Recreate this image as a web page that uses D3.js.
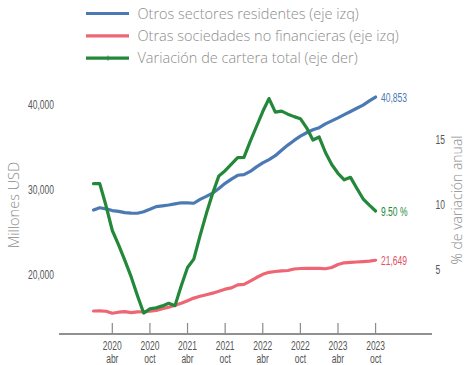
<!DOCTYPE html>
<html>
<head>
<meta charset="utf-8">
<script src="https://cdn.jsdelivr.net/npm/d3@7"></script>
<style>
  html, body { margin: 0; padding: 0; background: #ffffff; }
  svg { display: block; }
  .cond { font-family: "Liberation Sans", Arial, sans-serif; }
  .lab { font-family: "Open Sans", "Noto Sans", sans-serif; font-weight: 300; fill: #8c8c8c; }
</style>
</head>
<body>
<svg id="chart" width="466" height="365"></svg>
<script>
// Monthly series, Jan 2020 – Oct 2023
const startYear = 2020, startMonth = 0;
const otrosSectores = [
  27565, 27835, 27700, 27500, 27400, 27250, 27200, 27180, 27360, 27650,
  27960, 28050, 28150, 28280, 28420, 28400, 28360, 28820, 29170, 29550,
  30100, 30700, 31200, 31650, 31720, 32100, 32640, 33100, 33500, 33950,
  34600, 35200, 35750, 36250, 36650, 37000, 37250, 37700, 38050, 38400,
  38780, 39150, 39530, 39900, 40400, 40853
];
const otrasSociedades = [
  15680, 15690, 15650, 15420, 15540, 15600, 15500, 15580, 15600, 15650,
  15740, 15950, 16130, 16350, 16600, 16900, 17200, 17420, 17600, 17780,
  18000, 18250, 18400, 18760, 18820, 19200, 19620, 20000, 20230, 20330,
  20400, 20450, 20620, 20680, 20700, 20710, 20700, 20650, 20800, 21150,
  21350, 21400, 21450, 21500, 21560, 21649
];
const variacionCartera = [
  11.6, 11.6, 9.9, 8.0, 6.9, 5.7, 4.45, 3.0, 1.65, 1.97,
  2.05, 2.2, 2.4, 2.22, 3.75, 5.15, 5.8, 7.6, 9.3, 10.85,
  12.2, 12.6, 13.1, 13.6, 13.62, 14.85, 16.0, 17.15, 18.15, 17.1,
  17.18, 16.95, 16.76, 16.6, 15.9, 14.96, 15.19, 14.0, 13.08, 12.4,
  11.9, 12.09, 11.25, 10.44, 9.95, 9.50
];

const monthNames = ["ene","feb","mar","abr","may","jun","jul","ago","sep","oct","nov","dic"];
const tickMonths = [3, 9, 15, 21, 27, 33, 39, 45];   // abr / oct of each year
const leftTicks = [20000, 30000, 40000];
const rightTicks = [5, 10, 15];

const seriesInfo = [
  { name: "Otros sectores residentes (eje izq)", color: "#4b79b4", values: otrosSectores, axis: "left" },
  { name: "Otras sociedades no financieras (eje izq)", color: "#ee6674", values: otrasSociedades, axis: "left" },
  { name: "Variación de cartera total (eje der)", color: "#23883a", values: variacionCartera, axis: "right" }
];

const svg = d3.select("#chart");

const x = d3.scaleLinear().domain([0, otrosSectores.length - 1]).range([93.5, 375.6]);
const yLeft = d3.scaleLinear().domain([20000, 40000]).range([274.3, 104.3]);
const yRight = d3.scaleLinear().domain([0, 15]).range([334.5, 139.5]);
const baseY = 334;
const squeeze = 0.63;   // narrow numeric labels

// Helper: horizontally condensed label
function condText(g, tx, ty, str, color, anchor) {
  return g.append("text").attr("class", "cond")
    .attr("transform", `translate(${tx},${ty}) scale(${squeeze},1)`)
    .attr("text-anchor", anchor || "start")
    .attr("fill", color)
    .style("font-size", "13.5px")
    .text(str);
}

// Legend
const legend = svg.append("g");
seriesInfo.forEach((s, i) => {
  const ly = 13.5 + i * 22.3;
  legend.append("line")
    .attr("x1", 86).attr("x2", 129).attr("y1", ly).attr("y2", ly)
    .attr("stroke", s.color).attr("stroke-width", 3.2);
  if (s.axis === "right") {
    legend.append("line")
      .attr("x1", 108).attr("x2", 108).attr("y1", ly - 2.5).attr("y2", ly + 2.5)
      .attr("stroke", s.color).attr("stroke-width", 1);
  }
  legend.append("text").attr("class", "lab")
    .attr("x", 137.5).attr("y", ly).attr("dy", "0.35em")
    .style("font-size", "14.5px")
    .text(s.name);
});

// X axis with baseline and upward ticks
const xAxis = svg.append("g");
xAxis.append("line")
  .attr("x1", 59).attr("x2", 432).attr("y1", baseY).attr("y2", baseY)
  .attr("stroke", "#6b6b6b").attr("stroke-width", 1.4);
tickMonths.forEach(m => {
  const tx = x(m);
  xAxis.append("line")
    .attr("x1", tx).attr("x2", tx).attr("y1", baseY - 11).attr("y2", baseY)
    .attr("stroke", "#8a8a8a").attr("stroke-width", 1.2);
  const yr = startYear + Math.floor((startMonth + m) / 12);
  const mn = monthNames[(startMonth + m) % 12];
  condText(xAxis, tx, 350, yr, "#555", "middle");
  condText(xAxis, tx, 363, mn, "#555", "middle");
});

// Left axis labels
const fmt = d3.format(",");
const leftG = svg.append("g");
leftTicks.forEach(d => condText(leftG, 54, yLeft(d) + 4.8, fmt(d), "#555", "end"));

// Right axis labels
const rightG = svg.append("g");
rightTicks.forEach(d => condText(rightG, 435.5, yRight(d) + 4.8, d, "#555", "start"));

// Axis titles
svg.append("text").attr("class", "lab")
  .attr("transform", "translate(13.5,205) rotate(-90)")
  .attr("text-anchor", "middle").attr("dy", "0.35em")
  .style("font-size", "14.5px").text("Millones USD");
svg.append("text").attr("class", "lab")
  .attr("transform", "translate(457.5,200) rotate(-90)")
  .attr("text-anchor", "middle").attr("dy", "0.35em")
  .style("font-size", "14px").text("% de variación anual");

// Series lines
const lineLeft = d3.line().x((d, i) => x(i)).y(d => yLeft(d));
const lineRight = d3.line().x((d, i) => x(i)).y(d => yRight(d));
seriesInfo.forEach(s => {
  svg.append("path")
    .datum(s.values)
    .attr("fill", "none")
    .attr("stroke", s.color)
    .attr("stroke-width", 3.2)
    .attr("stroke-linejoin", "round")
    .attr("stroke-linecap", "round")
    .attr("d", s.axis === "left" ? lineLeft : lineRight);
});

// End-of-series value labels
const last = otrosSectores.length - 1;
const endLabels = [
  { text: fmt(otrosSectores[last]), y: yLeft(otrosSectores[last]), color: "#4b79b4" },
  { text: d3.format(".2f")(variacionCartera[last]) + " %", y: yRight(variacionCartera[last]), color: "#23883a" },
  { text: fmt(otrasSociedades[last]), y: yLeft(otrasSociedades[last]), color: "#e0505f" }
];
const endG = svg.append("g");
endLabels.forEach(d => condText(endG, 381, d.y + 4.8, d.text, d.color, "start"));
</script>
</body>
</html>
